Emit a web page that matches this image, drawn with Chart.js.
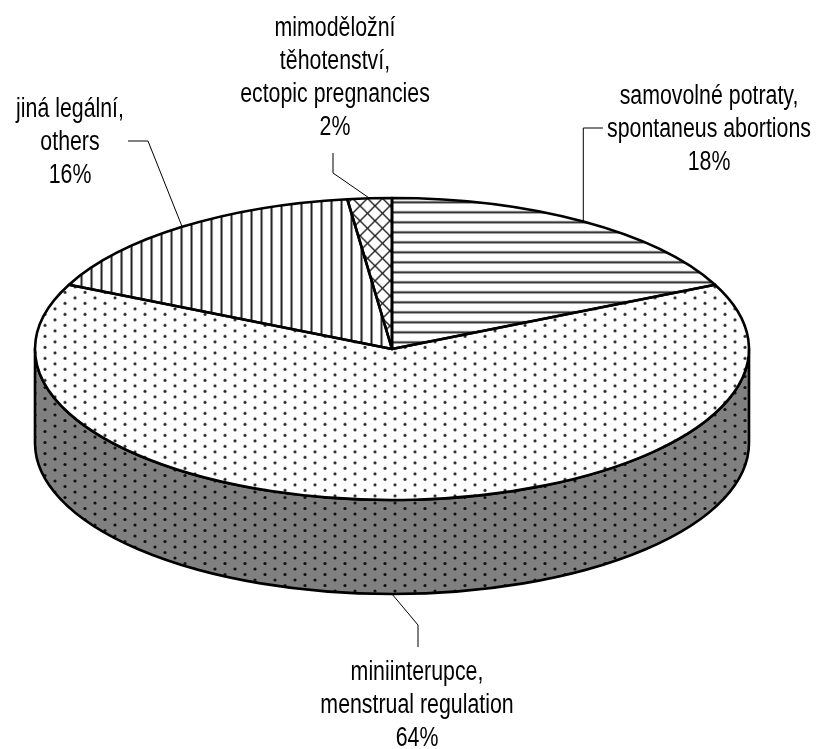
<!DOCTYPE html>
<html><head><meta charset="utf-8">
<script src="https://cdn.jsdelivr.net/npm/chart.js@4"></script>
<style>html,body{margin:0;padding:0;background:#fff;overflow:hidden}canvas{display:block}</style>
</head><body>
<canvas id="c" width="819" height="749"></canvas>
<script>
// ---- data ----
const categories = [
  ["samovolné potraty,", "spontaneus abortions"],
  ["miniinterupce,", "menstrual regulation"],
  ["jiná legální,", "others"],
  ["mimoděložní", "těhotenství,", "ectopic pregnancies"]
];
const values = [18, 64, 16, 2];
const patternKinds = ["hlines", "dots", "vlines", "cross"];

// ---- layout (pixels) ----
const PIE = { cx: 392, cy: 349, rx: 357, ry: 151, depth: 94 };
const FONT = '27px "Liberation Sans", Arial, sans-serif';
const NARROW = 0.79;
const LINE_H = 33;
const labelLayout = [
  { x: 709, y: 97,  leader: [["ax", 128], [603, 128]] },
  { x: 417, y: 673, leader: [[418, 625], [418, 647]] },
  { x: 70,  y: 110, leader: [[148, 141], [128, 141]] },
  { x: 335, y: 29,  leader: [[333, 173], [333, 153]] }
];

function makePattern(kind, bg, fg) {
  const c = document.createElement("canvas");
  const g = c.getContext("2d");
  let w = 30, h = 30;
  if (kind === "dots") { w = 20; h = 11; }
  if (kind === "cross") { w = 15; h = 15; }
  c.width = w; c.height = h;
  g.fillStyle = bg; g.fillRect(0, 0, w, h);
  g.fillStyle = fg; g.strokeStyle = fg;
  if (kind === "hlines") {
    for (let i = 0; i < 3; i++) g.fillRect(0, i * 10 + 0.5, w, 2);
  } else if (kind === "vlines") {
    for (let i = 0; i < 3; i++) g.fillRect(i * 10 + 0.5, 0, 2, h);
  } else if (kind === "dots") {
    [[5, 2.5], [15, 8]].forEach(([x, y]) => { g.beginPath(); g.arc(x, y, 1.6, 0, Math.PI * 2); g.fill(); });
  } else if (kind === "cross") {
    g.lineWidth = 1.4;
    for (let o = -15; o <= 15; o += 15) {
      g.beginPath(); g.moveTo(-1 + o, -1); g.lineTo(16 + o, 16); g.stroke();
      g.beginPath(); g.moveTo(16 + o, -1); g.lineTo(-1 + o, 16); g.stroke();
    }
  }
  return g.createPattern(c, "repeat");
}

const topPatterns = patternKinds.map(k => makePattern(k, "#ffffff", "#222222"));
const sidePattern = makePattern("dots", "#808080", "#111111");

const pie3d = {
  id: "pie3d",
  beforeDatasetsDraw(chart) {
    const ctx = chart.ctx;
    const arc = chart.getDatasetMeta(0).data[0];
    const { cx, cy, rx, ry, depth } = PIE;
    // side wall
    ctx.save();
    ctx.beginPath();
    ctx.moveTo(cx + rx, cy);
    ctx.lineTo(cx + rx, cy + depth);
    ctx.ellipse(cx, cy + depth, rx, ry, 0, 0, Math.PI, false);
    ctx.lineTo(cx - rx, cy);
    ctx.ellipse(cx, cy, rx, ry, 0, Math.PI, 0, true);
    ctx.closePath();
    ctx.fillStyle = sidePattern; ctx.fill();
    ctx.lineWidth = 2.6; ctx.strokeStyle = "#000"; ctx.lineJoin = "round"; ctx.stroke();
    ctx.restore();
    // squash the top
    const sx = rx / arc.outerRadius, sy = ry / arc.outerRadius;
    topPatterns.forEach(p => p.setTransform(new DOMMatrix([1 / sx, 0, 0, 1 / sy, 0, 0])));
    ctx.save();
    ctx.translate(cx, cy); ctx.scale(sx, sy); ctx.translate(-arc.x, -arc.y);
  },
  afterDatasetsDraw(chart) {
    const ctx = chart.ctx;
    ctx.restore();
    const { cx, cy, rx, ry } = PIE;
    ctx.save();
    ctx.lineWidth = 2.6; ctx.strokeStyle = "#000"; ctx.lineJoin = "round";
    chart.getDatasetMeta(0).data.forEach(a => {
      const s = a.startAngle, e = a.endAngle;
      ctx.beginPath();
      ctx.moveTo(cx, cy);
      ctx.lineTo(cx + rx * Math.cos(s), cy + ry * Math.sin(s));
      ctx.ellipse(cx, cy, rx, ry, 0, s, e, false);
      ctx.closePath();
      ctx.stroke();
    });
    ctx.restore();
  },
  afterDraw(chart) {
    const ctx = chart.ctx;
    const { cx, cy, rx, ry, depth } = PIE;
    const total = values.reduce((a, b) => a + b, 0);
    ctx.save();
    chart.getDatasetMeta(0).data.forEach((a, i) => {
      const mid = (a.startAngle + a.endAngle) / 2;
      let ax = cx + rx * Math.cos(mid), ay = cy + ry * Math.sin(mid);
      if (Math.sin(mid) > 0.2) ay += depth;
      const L = labelLayout[i];
      ctx.beginPath();
      ctx.moveTo(ax, ay);
      L.leader.forEach(([px, py]) => ctx.lineTo(px === "ax" ? ax : px, py));
      ctx.strokeStyle = "#000"; ctx.lineWidth = 1; ctx.stroke();
      const lines = categories[i].concat([Math.round(values[i] / total * 100) + "%"]);
      ctx.font = FONT; ctx.fillStyle = "#000"; ctx.textAlign = "center"; ctx.textBaseline = "middle";
      lines.forEach((t, j) => {
        ctx.save();
        ctx.translate(L.x, L.y + j * LINE_H);
        ctx.scale(NARROW, 1);
        ctx.fillText(t, 0, 0);
        ctx.restore();
      });
    });
    ctx.restore();
  }
};

new Chart(document.getElementById("c"), {
  type: "pie",
  data: {
    labels: categories,
    datasets: [{
      data: values,
      backgroundColor: topPatterns,
      borderWidth: 0,
      hoverOffset: 0,
      offset: 0
    }]
  },
  options: {
    responsive: false,
    devicePixelRatio: 1,
    animation: false,
    events: [],
    layout: { padding: { left: 35, right: 70, top: 17, bottom: 18 } },
    plugins: { legend: { display: false }, tooltip: { enabled: false } }
  },
  plugins: [pie3d]
});
</script>
</body></html>
